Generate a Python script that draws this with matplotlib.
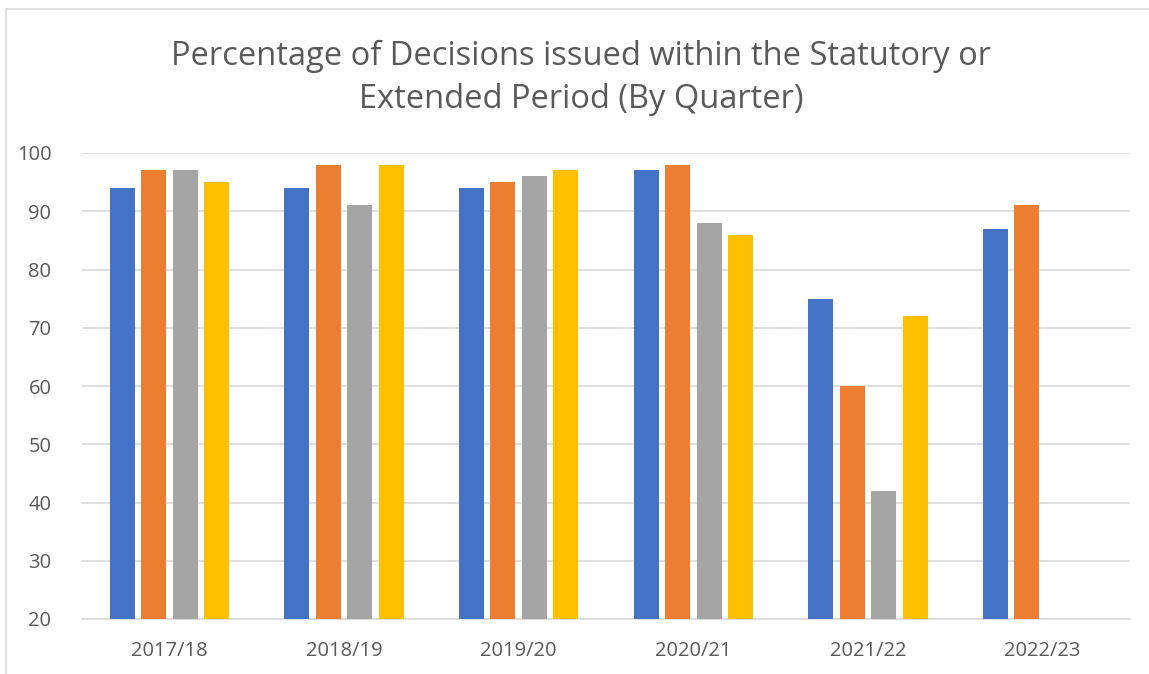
import matplotlib
matplotlib.use("Agg")
import matplotlib.pyplot as plt
import numpy as np
from matplotlib.patches import Rectangle

categories = ["2017/18", "2018/19", "2019/20", "2020/21", "2021/22", "2022/23"]
q1 = [94, 94, 94, 97, 75, 87]
q2 = [97, 98, 95, 98, 60, 91]
q3 = [97, 91, 96, 88, 42, np.nan]
q4 = [95, 98, 97, 86, 72, np.nan]
series = [q1, q2, q3, q4]
colors = ["#4472C4", "#ED7D31", "#A5A5A5", "#FFC000"]
yticks = [20, 30, 40, 50, 60, 70, 80, 90, 100]
title = "Percentage of Decisions issued within the Statutory or\nExtended Period (By Quarter)"

plt.rcParams['font.family'] = ['Open Sans', 'DejaVu Sans']
txt = "#595959"

W, H = 1149, 674
fig = plt.figure(figsize=(W/100, H/100), dpi=100)
fig.patches.append(Rectangle((6/W, -0.2), 1.2, 1.2 - 9/H, transform=fig.transFigure,
                             fill=False, edgecolor="#D9D9D9", linewidth=1.2))

left, right, top, bottom = 82, 1130, 153, 619
ax = fig.add_axes([left/W, 1 - bottom/H, (right-left)/W, (bottom-top)/H])

x = np.arange(len(categories))
bw = 0.143
step = 0.18
for i, (vals, c) in enumerate(zip(series, colors)):
    v = np.array(vals, dtype=float)
    ax.bar(x + (i - 1.5) * step, v - 20, bottom=20, width=bw, color=c, zorder=3)

ax.set_xlim(-0.5, len(categories) - 0.5)
ax.set_ylim(20, 100)
ax.set_yticks(yticks)
ax.set_xticks(x)
ax.set_xticklabels(categories)
ax.yaxis.grid(True, color="#D9D9D9", linewidth=1.2, zorder=0)
for s in ["top", "right", "left"]:
    ax.spines[s].set_visible(False)
ax.spines["bottom"].set_color("#D9D9D9")
ax.spines["bottom"].set_linewidth(1.2)
ax.tick_params(axis="both", length=0, labelsize=14.5, colors=txt)
ax.tick_params(axis="x", pad=16)
ax.tick_params(axis="y", pad=22)

fig.text(581/W, 1 - 78/H, title, ha="center", va="center", fontsize=23.5,
         color=txt, linespacing=1.4)

fig.savefig("out.png", dpi=100)
